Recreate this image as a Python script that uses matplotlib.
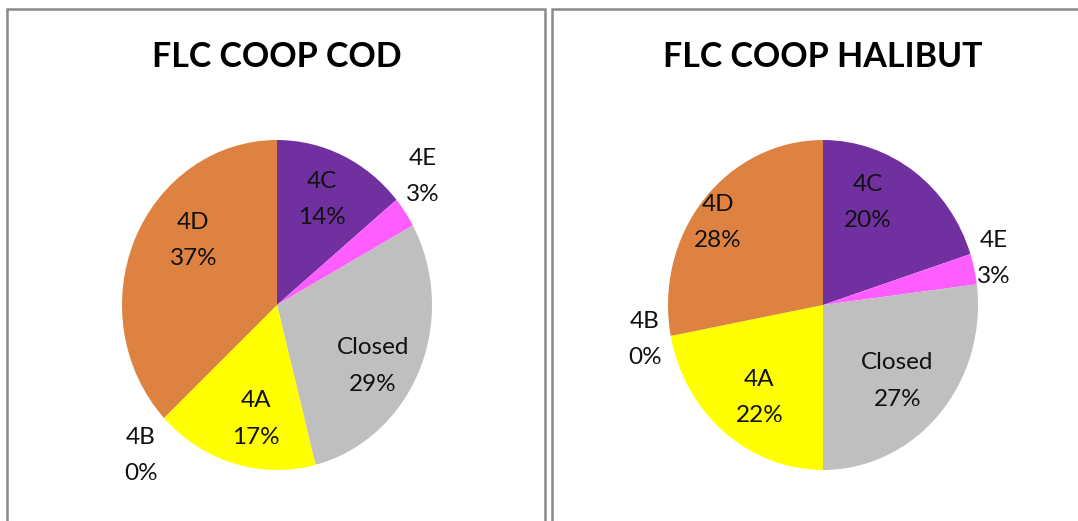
import matplotlib as mpl
import matplotlib.pyplot as plt
from matplotlib.patches import Rectangle

mpl.rcParams["font.family"] = ["Lato", "DejaVu Sans"]

# data
SEGMENTS = ["4C", "4E", "Closed", "4A", "4B", "4D"]
COD_PCT = [14, 3, 29, 17, 0, 37]
HALIBUT_PCT = [20, 3, 27, 22, 0, 28]
TITLES = ["FLC COOP COD", "FLC COOP HALIBUT"]
COLORS = ["#7030A0", "#FF5EFF", "#BFBFBF", "#FFFF00", "#4472C4", "#DE8241"]

# label placement (pie units, radius = 1), like Excel's best fit
COD_LABEL_POS = [(0.29, 0.64), (0.94, 0.78), (0.62, -0.37), (-0.135, -0.69), (-0.88, -0.91), (-0.54, 0.39)]
HALIBUT_LABEL_POS = [(0.29, 0.62), (1.10, 0.28), (0.48, -0.46), (-0.41, -0.56), (-1.15, -0.21), (-0.68, 0.50)]

W, H = 1078, 521
fig = plt.figure(figsize=(W / 100, H / 100), dpi=100)
fig.patch.set_facecolor("white")

# panel frames
for x0, x1 in [(7, 545), (552, 1085)]:
    fig.add_artist(Rectangle((x0 / W, -0.05), (x1 - x0) / W, 1.05 - 9 / H, transform=fig.transFigure,
                             fill=False, edgecolor="#8a8a8a", linewidth=1.8))

RX, RY = 155, 165
for cx, vals, title, pos in [(277, COD_PCT, TITLES[0], COD_LABEL_POS),
                             (823, HALIBUT_PCT, TITLES[1], HALIBUT_LABEL_POS)]:
    ax = fig.add_axes([(cx - RX) / W, (H - 305 - RY) / H, 2 * RX / W, 2 * RY / H])
    ax.pie(vals, colors=COLORS, startangle=90, counterclock=False, radius=1,
           wedgeprops=dict(linewidth=0))
    ax.set_aspect("auto")
    ax.set_xlim(-1, 1)
    ax.set_ylim(-1, 1)
    ax.set_axis_off()
    for name, v, (tx, ty) in zip(SEGMENTS, vals, pos):
        ax.text(tx, ty, f"{name}\n{v}%", ha="center", va="center", fontsize=17.5,
                linespacing=1.9, color="#111111", clip_on=False)
    fig.text(cx / W, 1 - 57 / H, title, ha="center", va="center", fontsize=24.5, fontweight="bold")

fig.savefig("out.png", dpi=100)
